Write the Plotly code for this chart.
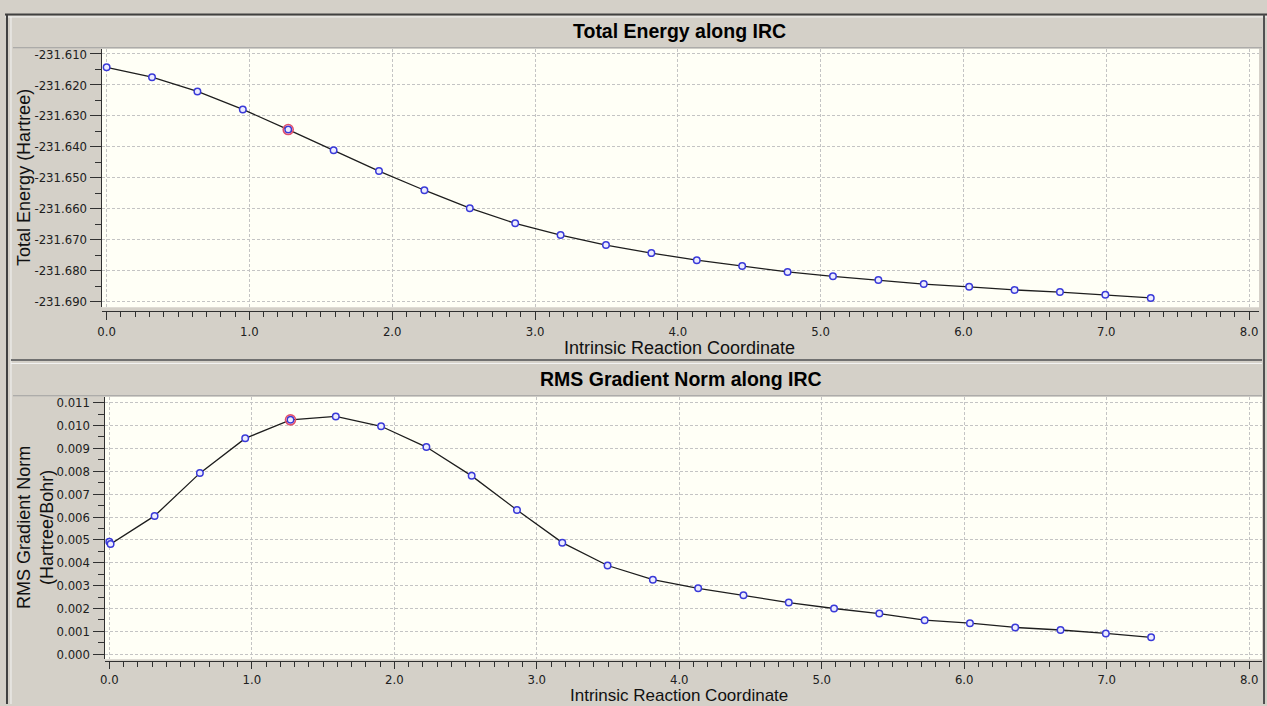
import plotly.graph_objects as go

# ---------------- data ----------------
irc_x = [0.0000, 0.3179, 0.6358, 0.9537, 1.2716, 1.5895, 1.9074, 2.2253,
         2.5432, 2.8611, 3.1790, 3.4969, 3.8148, 4.1327, 4.4506, 4.7685,
         5.0864, 5.4043, 5.7222, 6.0401, 6.3580, 6.6759, 6.9938, 7.3117]

total_energy = [-231.6143, -231.6175, -231.6221, -231.6279, -231.6344, -231.6411,
                -231.6478, -231.6540, -231.6598, -231.6647, -231.6685, -231.6717,
                -231.6743, -231.6766, -231.6785, -231.6804, -231.6818, -231.6830,
                -231.6843, -231.6852, -231.6862, -231.6869, -231.6878, -231.6888]

grad_x = [0.0000, 0.0090, 0.3179, 0.6358, 0.9537, 1.2716, 1.5895, 1.9074, 2.2253,
          2.5432, 2.8611, 3.1790, 3.4969, 3.8148, 4.1327, 4.4506, 4.7685,
          5.0864, 5.4043, 5.7222, 6.0401, 6.3580, 6.6759, 6.9938, 7.3117]

rms_gradient = [0.00492, 0.00482, 0.00605, 0.00792, 0.00944, 0.01025, 0.01040,
                0.00997, 0.00906, 0.00780, 0.00631, 0.00488, 0.00388, 0.00326,
                0.00288, 0.00258, 0.00226, 0.00200, 0.00178, 0.00149, 0.00136,
                0.00117, 0.00106, 0.00091, 0.00074]

current_energy_idx = 4
current_grad_idx = 5

energy_ticks = [-231.610, -231.620, -231.630, -231.640, -231.650,
                -231.660, -231.670, -231.680, -231.690]
energy_ticklabels = ["-231.610", "-231.620", "-231.630", "-231.640", "-231.650",
                     "-231.660", "-231.670", "-231.680", "-231.690"]

# ---------------- style ----------------
W, H = 1267, 706
BG = "#d4d0c8"
PLOTBG = "#fffff6"
GRID = "#c4c4c4"
LINE = "#1e1e1e"
MARK = "#3a3ad8"
RED = "#e0506e"
TICKFONT = dict(family="Liberation Sans Narrow, Arial Narrow, DejaVu Sans Condensed, sans-serif",
                size=13, color="#202020")
LABFONT = dict(family="Liberation Sans, Arial, sans-serif", size=18, color="#111111")
TITLEFONT = dict(family="Liberation Sans, Arial, sans-serif", size=19.5, color="#000000")


def px(v):
    return v / W


def py(v):
    return 1 - v / H


fig = go.Figure()

# top panel
fig.add_trace(go.Scatter(
    x=irc_x, y=total_energy, mode="lines+markers",
    line=dict(color=LINE, width=1.3),
    marker=dict(symbol="circle", size=6.5, color="#ececff",
                line=dict(color=MARK, width=1.5)),
    xaxis="x", yaxis="y", showlegend=False, hoverinfo="x+y"))
fig.add_trace(go.Scatter(
    x=[irc_x[current_energy_idx]], y=[total_energy[current_energy_idx]],
    mode="markers",
    marker=dict(symbol="circle-open", size=10, color=RED, line=dict(width=1.6)),
    xaxis="x", yaxis="y", showlegend=False, hoverinfo="skip"))

# bottom panel
fig.add_trace(go.Scatter(
    x=grad_x, y=rms_gradient, mode="lines+markers",
    line=dict(color=LINE, width=1.3),
    marker=dict(symbol="circle", size=6.5, color="#ececff",
                line=dict(color=MARK, width=1.5)),
    xaxis="x2", yaxis="y2", showlegend=False, hoverinfo="x+y"))
fig.add_trace(go.Scatter(
    x=[grad_x[current_grad_idx]], y=[rms_gradient[current_grad_idx]],
    mode="markers",
    marker=dict(symbol="circle-open", size=10, color=RED, line=dict(width=1.6)),
    xaxis="x2", yaxis="y2", showlegend=False, hoverinfo="skip"))

xcommon = dict(
    tickmode="linear", tick0=0, dtick=1.0, tickformat=".1f",
    ticks="outside", ticklen=8, tickwidth=1, tickcolor="#303030",
    showline=True, linecolor="#303030", linewidth=1,
    showgrid=True, gridcolor=GRID, griddash="3px,2px", gridwidth=1,
    zeroline=False, tickfont=TICKFONT,
    minor=dict(tickmode="linear", tick0=0, dtick=0.1, ticks="outside",
               ticklen=5, tickcolor="#303030", showgrid=False),
    anchor="free", fixedrange=True,
)

fig.update_layout(
    width=W, height=H,
    margin=dict(l=0, r=0, t=0, b=0),
    paper_bgcolor=BG, plot_bgcolor=PLOTBG,
    xaxis=dict(xcommon, domain=[px(97), px(1259)], range=[-0.035, 8.07],
               position=py(311)),
    yaxis=dict(domain=[py(307), py(47)], range=[-231.6918, -231.6083],
               anchor="x", tickmode="array", tickvals=energy_ticks,
               ticktext=energy_ticklabels,
               ticks="outside", ticklen=11, tickwidth=1, tickcolor="#303030",
               showline=True, linecolor="#303030", linewidth=1,
               showgrid=True, gridcolor=GRID, griddash="3px,2px", gridwidth=1,
               zeroline=False, tickfont=TICKFONT,
               minor=dict(tickmode="linear", tick0=-231.615, dtick=0.005,
                          ticks="outside", ticklen=6, tickcolor="#303030",
                          showgrid=False),
               fixedrange=True),
    xaxis2=dict(xcommon, domain=[px(100), px(1262)], range=[-0.033, 8.09],
                position=py(663), ticklen=7, ticklabelstandoff=-1),
    yaxis2=dict(domain=[py(661), py(397)], range=[-0.00022, 0.01126],
                anchor="x2", tickmode="linear", tick0=0, dtick=0.001,
                tickformat=".3f",
                ticks="outside", ticklen=11, tickwidth=1, tickcolor="#303030",
                showline=True, linecolor="#303030", linewidth=1,
                showgrid=True, gridcolor=GRID, griddash="3px,2px", gridwidth=1,
                zeroline=False, tickfont=TICKFONT,
                minor=dict(tickmode="linear", tick0=0, dtick=0.0005,
                           ticks="outside", ticklen=6, tickcolor="#303030",
                           showgrid=False),
                fixedrange=True),
)

# window / panel frame decorations
shapes = [
    dict(type="line", xref="paper", yref="paper", x0=0, x1=1, y0=py(12.5), y1=py(12.5),
         line=dict(color="#404040", width=2)),
    dict(type="line", xref="paper", yref="paper", x0=0, x1=1, y0=py(15), y1=py(15),
         line=dict(color="#f4f4f4", width=1)),
    dict(type="line", xref="paper", yref="paper", x0=px(2), x1=px(2), y0=0, y1=py(12.5),
         line=dict(color="#404040", width=2)),
    dict(type="line", xref="paper", yref="paper", x0=px(6), x1=px(6), y0=0, y1=py(15),
         line=dict(color="#f4f4f4", width=1)),
    dict(type="line", xref="paper", yref="paper", x0=px(1264), x1=px(1264), y0=0, y1=py(12.5),
         line=dict(color="#505050", width=2)),
    dict(type="line", xref="paper", yref="paper", x0=px(8), x1=px(1262), y0=py(46), y1=py(46),
         line=dict(color="#a0a0a0", width=1)),
    dict(type="line", xref="paper", yref="paper", x0=px(6), x1=px(1262), y0=py(360), y1=py(360),
         line=dict(color="#707070", width=2)),
    dict(type="line", xref="paper", yref="paper", x0=px(6), x1=px(1262), y0=py(363.5), y1=py(363.5),
         line=dict(color="#f4f4f4", width=1)),
    dict(type="line", xref="paper", yref="paper", x0=px(8), x1=px(1262), y0=py(396), y1=py(396),
         line=dict(color="#a0a0a0", width=1)),
]
fig.update_layout(shapes=shapes)

annotations = [
    dict(text="<b>Total Energy along IRC</b>", x=px(677), y=py(29), xref="paper", yref="paper",
         xanchor="center", yanchor="middle", showarrow=False, font=TITLEFONT),
    dict(text="<b>RMS Gradient Norm along IRC</b>", x=px(679), y=py(379), xref="paper", yref="paper",
         xanchor="center", yanchor="middle", showarrow=False, font=TITLEFONT),
    dict(text="Intrinsic Reaction Coordinate", x=px(677), y=py(348), xref="paper", yref="paper",
         xanchor="center", yanchor="middle", showarrow=False, font=LABFONT),
    dict(text="Intrinsic Reaction Coordinate", x=px(677), y=py(697), xref="paper", yref="paper",
         xanchor="center", yanchor="middle", showarrow=False,
         font=dict(LABFONT, size=17)),
    dict(text="Total Energy (Hartree)", x=px(19), y=py(176), xref="paper", yref="paper",
         xanchor="center", yanchor="middle", showarrow=False, textangle=-90, font=LABFONT),
    dict(text="RMS Gradient Norm<br>(Hartree/Bohr)", x=px(30), y=py(528), xref="paper", yref="paper",
         xanchor="center", yanchor="middle", showarrow=False, textangle=-90, font=LABFONT),
]
fig.update_layout(annotations=annotations)

fig.write_html(
    "out.html",
    config=dict(displayModeBar=False),
    post_script="document.body.style.margin='0';document.body.style.overflow='hidden';",
)
